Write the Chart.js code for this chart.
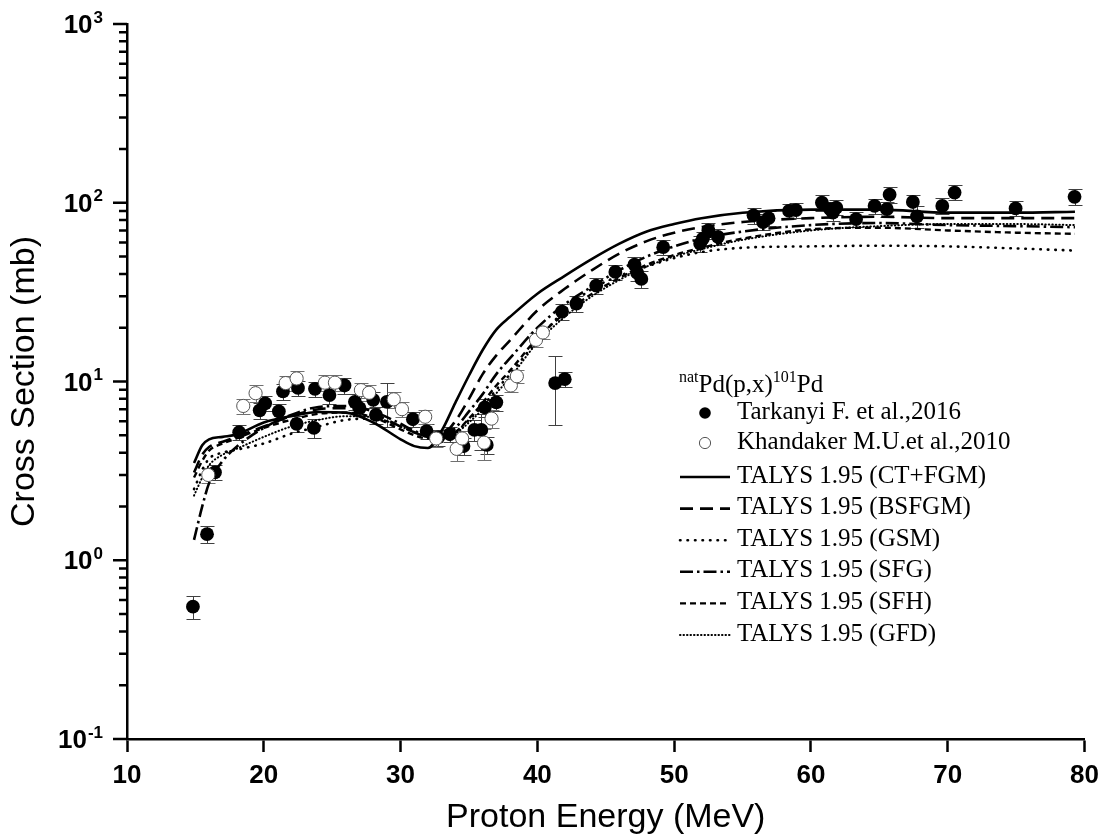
<!DOCTYPE html>
<html><head><meta charset="utf-8">
<script src="https://cdn.jsdelivr.net/npm/chart.js@4.4.0/dist/chart.umd.min.js"></script>
<style>html,body{margin:0;padding:0;background:#fff;}#wrap{width:1107px;height:840px;}</style>
</head><body><div id="wrap"><canvas id="c" width="1107" height="840"></canvas></div>
<script>
// ---------- data ----------
const TARK_E   = [14.82,15.85,16.43,18.2,19.7,20.1,21.1,21.4,22.4,22.5,23.66,23.74,24.8,25.9,26.66,27.0,28.0,28.2,29.0,30.9,31.9,32.75,33.6,34.6,35.4,35.9,36.16,36.3,37.0,41.3,41.8,42.0,42.85,44.3,45.7,47.1,47.3,47.6,49.2,51.9,52.1,52.5,53.2,55.8,56.5,56.9,58.4,58.9,60.8,61.4,61.6,61.85,63.3,64.65,65.55,65.75,67.45,67.75,69.6,70.5,74.96,79.27];
const TARK_V   = [0.55,1.40,3.1,5.2,6.9,7.55,6.8,8.8,5.8,9.2,5.5,9.1,8.4,9.5,7.7,7.1,7.9,6.5,7.7,6.15,5.28,4.87,5.07,4.35,5.36,5.36,7.17,4.42,7.65,9.8,24.6,10.3,27.3,34.4,41,45,40.5,37.5,56.4,59,63,70,64.5,85,78,82,90,91,100,92,88,94,81,96,92,111,101,84,96,114,93,108];
const TARK_ERR = [0.08,0.15,0.3,0.5,0.7,0.7,0.7,0.9,0.6,0.9,0.7,0.9,0.9,1.0,0.8,0.7,0.8,0.7,2.1,0.6,0.5,0.5,0.5,0.45,0.7,1.2,0.8,0.5,0.8,4.1,2.5,1.0,2.7,3.4,4,4.5,4,4,5.6,6,6,7,6.5,8.5,8,8,9,9,10,9,9,9,8,9.6,9,11,10,12,10,11,9,11];
const KHAN_E   = [15.94,18.5,19.4,21.6,22.4,24.47,25.2,27.1,27.7,29.5,30.1,31.8,32.6,34.1,34.5,36.1,36.65,38.06,38.5,39.9,40.4];
const KHAN_V   = [3.0,7.3,8.6,9.8,10.4,9.85,9.85,8.95,8.65,7.95,7.0,6.35,4.8,4.2,4.8,4.55,6.2,9.5,10.7,17.1,18.8];
const KHAN_ERR = [0.3,0.7,0.9,1.0,1.0,1.0,1.0,0.9,0.9,0.8,0.7,0.6,0.5,0.6,0.5,0.9,0.7,0.8,0.9,1.5,1.5];

const MODEL_E = [14.9,15.5,16,17,18,20,22,24,26,28,30,31,32,33,34,35,36,37,38,40,42,44,46,48,50,52,55,60,65,70,75,79.3];
const CT_FGM  = [3.5,4.4,4.75,4.9,5.05,5.9,6.4,6.75,6.7,5.9,4.75,4.35,4.25,5.3,7.6,10.8,15,19.5,23,31,39,48.5,59,69,76,82,88,91.5,91.5,88,88,89];
const BSFGM   = [3.1,3.9,4.3,4.6,4.9,5.6,6.4,7.0,7.1,6.6,5.6,5.2,4.9,5.0,6.0,8.0,11,14,17,25,33,42,52,61,68,73,78,82,83.5,82,82,82];
const GSM     = [2.5,3.2,3.7,4.0,4.15,4.5,5.1,5.6,6.1,6.2,5.6,5.2,4.9,4.8,5.2,6.1,7.3,9.0,11,17,25,33,39,44,49,53,56,57,57.5,57,55.5,54];
const SFG     = [1.3,2.0,2.7,3.6,4.3,5.5,6.5,7.2,7.3,6.8,5.8,5.3,5.0,4.9,5.5,6.8,8.5,11,13.5,20,27,34,42,50,57,63,69,75,77,75,74,73];
const SFH     = [2.9,3.6,4.1,4.5,4.8,5.5,6.1,6.6,6.7,6.3,5.4,5.0,4.8,4.8,5.2,6.2,7.6,9.5,11.5,17.5,24,31,38,45,51,56,63,71,72.5,70,68,67];
const GFD     = [2.3,2.9,3.4,3.9,4.2,4.9,5.6,6.1,6.4,6.3,5.6,5.2,4.9,4.8,5.1,5.9,7.0,8.6,10.5,16.5,23,30,37,44,50,55,62,70,74,76,76,75];

const X_TICKS = [10,20,30,40,50,60,70,80];
const Y_EXPONENTS = [-1,0,1,2,3];
const LEGEND_TITLE = ['nat','Pd(p,x)','101','Pd'];
const EXP_LABELS = ['Tarkanyi F. et al.,2016','Khandaker M.U.et al.,2010'];
const MODEL_LABELS = ['TALYS 1.95 (CT+FGM)','TALYS 1.95 (BSFGM)','TALYS 1.95 (GSM)','TALYS 1.95 (SFG)','TALYS 1.95 (SFH)','TALYS 1.95 (GFD)'];

// ---------- helpers ----------
const pts = (xs, ys) => xs.map((x, i) => ({x: x, y: ys[i]}));
const SANS = '"Liberation Sans", Arial, sans-serif';
const SERIF = '"Liberation Serif", "Times New Roman", serif';

const modelStyles = [
  {dash: [], width: 2.6, cap: 'butt'},
  {dash: [13, 7], width: 2.6, cap: 'butt'},
  {dash: [0.5, 7], width: 2.6, cap: 'round'},
  {dash: [13, 4, 2.5, 4], width: 2.6, cap: 'butt'},
  {dash: [6, 4], width: 2.4, cap: 'butt'},
  {dash: [0.5, 3], width: 2.0, cap: 'round'}
];
const modelData = [CT_FGM, BSFGM, GSM, SFG, SFH, GFD];

const lineSets = modelData.map((arr, k) => ({
  label: MODEL_LABELS[k],
  data: pts(MODEL_E, arr),
  showLine: true,
  borderColor: '#000',
  backgroundColor: '#000',
  borderWidth: modelStyles[k].width,
  borderDash: modelStyles[k].dash,
  borderCapStyle: modelStyles[k].cap,
  pointRadius: 0,
  cubicInterpolationMode: 'monotone',
  fill: false,
  order: 10
}));

// ---------- plugins ----------
const errorBars = {
  id: 'errorBars',
  beforeDatasetsDraw(chart) {
    const {ctx, scales: {x, y}} = chart;
    ctx.save();
    ctx.lineWidth = 1;
    const draw = (E, V, ERR, color) => {
      ctx.strokeStyle = color;
      ctx.beginPath();
      E.forEach((e, i) => {
        const px = Math.round(x.getPixelForValue(e)) + 0.5;
        const top = Math.round(y.getPixelForValue(V[i] + ERR[i])) + 0.5;
        const bot = Math.round(y.getPixelForValue(V[i] - ERR[i])) + 0.5;
        ctx.moveTo(px, top); ctx.lineTo(px, bot);
        ctx.moveTo(px - 7, top); ctx.lineTo(px + 7, top);
        ctx.moveTo(px - 7, bot); ctx.lineTo(px + 7, bot);
      });
      ctx.stroke();
    };
    draw(TARK_E, TARK_V, TARK_ERR, '#404040');
    draw(KHAN_E, KHAN_V, KHAN_ERR, '#707070');
    ctx.restore();
  }
};

const axisDecor = {
  id: 'axisDecor',
  afterDraw(chart) {
    const {ctx, scales: {y}, chartArea} = chart;
    ctx.save();
    ctx.strokeStyle = '#000';
    ctx.lineWidth = 2.5;
    ctx.beginPath();
    for (let p = Y_EXPONENTS[0]; p < Y_EXPONENTS[Y_EXPONENTS.length - 1]; p++) {
      for (let m = 2; m <= 9; m++) {
        const py = y.getPixelForValue(m * Math.pow(10, p));
        ctx.moveTo(chartArea.left, py); ctx.lineTo(chartArea.left - 8, py);
      }
    }
    Y_EXPONENTS.forEach(p => {
      const py = y.getPixelForValue(Math.pow(10, p));
      ctx.moveTo(chartArea.left, py); ctx.lineTo(chartArea.left - 14, py);
    });
    ctx.stroke();
    ctx.fillStyle = '#000';
    ctx.textBaseline = 'middle';
    ctx.textAlign = 'right';
    Y_EXPONENTS.forEach(p => {
      const py = y.getPixelForValue(Math.pow(10, p));
      const exp = p < 0 ? '-' + Math.abs(p) : String(p);
      const right = chartArea.left - 24;
      ctx.font = 'bold 17px ' + SANS;
      const ew = ctx.measureText(exp).width;
      ctx.fillText(exp, right, py - 6);
      ctx.font = 'bold 26px ' + SANS;
      ctx.fillText('10', right - ew - 1, py + 2);
    });
    ctx.restore();
  }
};

const customLegend = {
  id: 'customLegend',
  afterDraw(chart) {
    const ctx = chart.ctx;
    ctx.save();
    ctx.fillStyle = '#000';
    ctx.textAlign = 'left';
    ctx.textBaseline = 'alphabetic';
    let x = 679; const by = 392;
    LEGEND_TITLE.forEach((t, i) => {
      const sup = (i % 2 === 0);
      ctx.font = (sup ? '16px ' : '25px ') + SERIF;
      ctx.fillText(t, x, sup ? by - 10 : by);
      x += ctx.measureText(t).width;
    });
    ctx.textBaseline = 'middle';
    ctx.font = '25px ' + SERIF;
    const tx = 737;
    const expRows = [412, 442];
    ctx.beginPath(); ctx.arc(705, expRows[0] + 1, 5.8, 0, Math.PI * 2); ctx.fill();
    ctx.fillText(EXP_LABELS[0], tx, expRows[0]);
    ctx.strokeStyle = '#555'; ctx.lineWidth = 1;
    ctx.beginPath(); ctx.arc(705, expRows[1] + 1, 5.6, 0, Math.PI * 2); ctx.stroke();
    ctx.fillText(EXP_LABELS[1], tx, expRows[1]);
    const rowY0 = 476, rowStep = 31.6;
    MODEL_LABELS.forEach((lab, k) => {
      const ry = rowY0 + k * rowStep;
      ctx.save();
      ctx.strokeStyle = '#000';
      ctx.lineWidth = modelStyles[k].width;
      ctx.lineCap = modelStyles[k].cap;
      ctx.setLineDash(modelStyles[k].dash);
      ctx.beginPath(); ctx.moveTo(680, ry + 1); ctx.lineTo(730, ry + 1); ctx.stroke();
      ctx.restore();
      ctx.fillText(lab, tx, ry);
    });
    ctx.restore();
  }
};

// ---------- chart ----------
new Chart(document.getElementById('c'), {
  type: 'scatter',
  data: {
    datasets: [
      {
        label: EXP_LABELS[1],
        data: pts(KHAN_E, KHAN_V),
        pointRadius: 6.6,
        pointBackgroundColor: '#fff',
        pointBorderColor: '#555',
        pointBorderWidth: 1,
        showLine: false,
        order: 1
      },
      {
        label: EXP_LABELS[0],
        data: pts(TARK_E, TARK_V),
        pointRadius: 6.9,
        pointBackgroundColor: '#000',
        pointBorderColor: '#000',
        pointBorderWidth: 0,
        showLine: false,
        order: 2
      },
      ...lineSets
    ]
  },
  options: {
    responsive: false,
    animation: false,
    devicePixelRatio: 1,
    layout: {padding: {left: 0, top: 24, right: 22, bottom: 0}},
    plugins: {legend: {display: false}, tooltip: {enabled: false}},
    scales: {
      x: {
        type: 'linear',
        min: X_TICKS[0], max: X_TICKS[X_TICKS.length - 1],
        afterBuildTicks: s => { s.ticks = X_TICKS.map(v => ({value: v})); },
        afterFit: s => { s.height = 101; },
        grid: {drawOnChartArea: false, drawTicks: true, tickLength: 13, tickWidth: 2.5, tickColor: '#000', color: '#000'},
        border: {display: true, color: '#000', width: 2.5},
        ticks: {color: '#000', padding: 8, font: {family: SANS, size: 26, weight: 'bold'}, maxRotation: 0},
        title: {display: true, text: 'Proton Energy (MeV)', color: '#000', font: {family: SANS, size: 34, lineHeight: 1.0}, padding: {top: 0, bottom: 5}}
      },
      y: {
        type: 'logarithmic',
        min: Math.pow(10, Y_EXPONENTS[0]), max: Math.pow(10, Y_EXPONENTS[Y_EXPONENTS.length - 1]),
        afterFit: s => { s.width = 127; },
        grid: {drawOnChartArea: false, drawTicks: false, color: 'rgba(0,0,0,0)'},
        border: {display: true, color: '#000', width: 2.5},
        ticks: {display: false},
        title: {display: true, text: 'Cross Section (mb)', color: '#000', font: {family: SANS, size: 34, lineHeight: 1.0}, padding: {top: 8, bottom: 0}}
      }
    }
  },
  plugins: [errorBars, axisDecor, customLegend]
});
</script></body></html>
